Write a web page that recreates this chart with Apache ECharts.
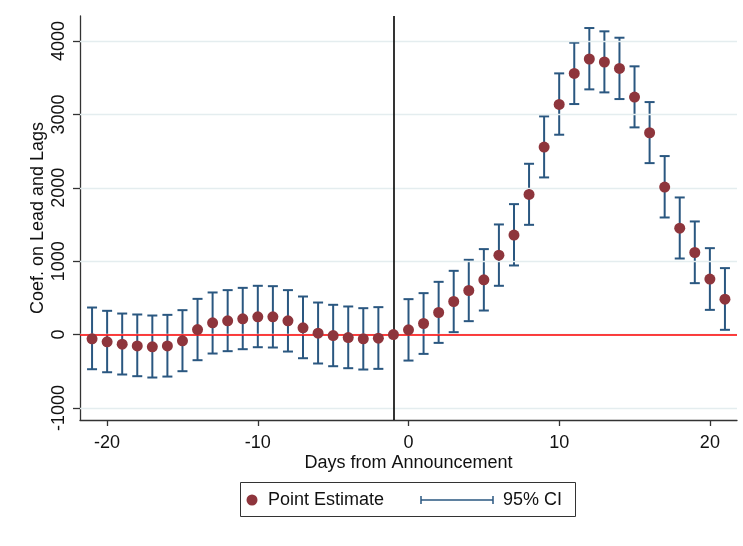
<!DOCTYPE html>
<html>
<head>
<meta charset="utf-8">
<script src="https://cdn.jsdelivr.net/npm/echarts@6/dist/echarts.min.js"></script>
<style>html,body{margin:0;padding:0;background:#fff}#c{width:743px;height:546px}</style>
</head>
<body>
<div id="c"></div>
<script>
const days = [-21,-20,-19,-18,-17,-16,-15,-14,-13,-12,-11,-10,-9,-8,-7,-6,-5,-4,-3,-2,-1,0,1,2,3,4,5,6,7,8,9,10,11,12,13,14,15,16,17,18,19,20,21];
const estimate = [-59,-100,-132,-155,-168,-155,-86,68,159,186,214,241,241,186,91,18,-14,-41,-59,-50,0,64,150,300,450,600,745,1082,1355,1909,2555,3136,3559,3755,3714,3627,3236,2750,2009,1450,1118,755,482];
const ciUpper = [368,323,286,273,259,268,332,486,573,605,636,664,659,605,518,436,405,382,359,373,null,482,564,718,868,1018,1164,1500,1777,2327,2973,3559,3977,4177,4132,4045,3655,3168,2432,1868,1541,1177,905];
const ciLower = [-473,-514,-545,-568,-586,-573,-500,-350,-259,-227,-200,-173,-177,-232,-323,-395,-432,-459,-477,-468,null,-355,-264,-114,32,182,327,664,941,1495,2141,2723,3141,3341,3300,3209,2823,2336,1595,1036,700,336,64];
const xTicks = [-20,-10,0,10,20];
const yTicks = [-1000,0,1000,2000,3000,4000];
const eventDay = -1;
const refValue = 0;

const FONT = 'Liberation Sans, Arial, sans-serif';
const markerColor = '#8e353c';
const ciColor = '#2a5780';

const ciData = days.map((d,i)=>[d, ciLower[i], ciUpper[i]]).filter(r=>r[1]!==null);
const ptData = days.map((d,i)=>[d, estimate[i]]);

const chart = echarts.init(document.getElementById('c'), null, {renderer:'canvas'});
chart.setOption({
  animation:false,
  backgroundColor:'#fff',
  grid:{left:80, right:6, top:16, bottom:126},
  xAxis:{
    type:'value', min:-21.8, max:21.8,
    name:'Days from Announcement', nameLocation:'middle', nameGap:34, nameMoveOverlap:false,
    nameTextStyle:{fontFamily:FONT, fontSize:18, color:'#111'},
    axisLine:{onZero:false, lineStyle:{color:'#333', width:1.3}},
    axisTick:{customValues:xTicks, length:6, lineStyle:{color:'#333', width:1.3}},
    axisLabel:{customValues:xTicks, fontFamily:FONT, fontSize:18, color:'#111', margin:14, formatter:v=>String(v)},
    splitLine:{show:false}
  },
  yAxis:{
    type:'value', min:-1165, max:4341,
    name:'Coef. on Lead and Lags', nameLocation:'middle', nameGap:33, nameMoveOverlap:false,
    nameTextStyle:{fontFamily:FONT, fontSize:18, color:'#111'},
    axisLine:{show:true, onZero:false, lineStyle:{color:'#333', width:1.3}},
    axisTick:{show:true, customValues:yTicks, length:7, lineStyle:{color:'#333', width:1.3}},
    axisLabel:{customValues:yTicks, rotate:90, fontFamily:FONT, fontSize:18, color:'#111', margin:12, formatter:v=>String(v)},
    splitLine:{show:false}
  },
  series:[
    {
      type:'line', data:[], silent:true,
      markLine:{silent:true, symbol:'none', label:{show:false},
        lineStyle:{color:'#e4edef', width:1.3, type:'solid'},
        data: yTicks.map(v=>({yAxis:v}))}
    },
    {
      type:'line', data:[], silent:true, z:3,
      markLine:{silent:true, symbol:'none', label:{show:false},
        data:[
          {xAxis:eventDay, lineStyle:{color:'#000', width:1.6, type:'solid'}},
          {yAxis:refValue, lineStyle:{color:'#ff0000', width:1.6, type:'solid'}}
        ]}
    },
    {
      type:'custom', name:'95% CI', z:4,
      data: ciData,
      renderItem:function(params, api){
        const x = api.value(0);
        const lo = api.coord([x, api.value(1)]);
        const hi = api.coord([x, api.value(2)]);
        const hw = 5;
        const st = {stroke:ciColor, lineWidth:2};
        return {type:'group', children:[
          {type:'line', shape:{x1:lo[0], y1:lo[1], x2:hi[0], y2:hi[1]}, style:st},
          {type:'line', shape:{x1:lo[0]-hw, y1:lo[1], x2:lo[0]+hw, y2:lo[1]}, style:st},
          {type:'line', shape:{x1:hi[0]-hw, y1:hi[1], x2:hi[0]+hw, y2:hi[1]}, style:st}
        ]};
      }
    },
    {
      type:'scatter', name:'Point Estimate', z:5,
      data: ptData, symbol:'circle', symbolSize:11,
      itemStyle:{color:markerColor, opacity:1}
    }
  ],
  graphic:[
    {type:'rect', shape:{x:240.5, y:482.5, width:335, height:34}, style:{fill:'#fff', stroke:'#333', lineWidth:1}},
    {type:'circle', shape:{cx:252, cy:500, r:5.5}, style:{fill:markerColor}},
    {type:'text', x:268, y:500, style:{text:'Point Estimate', fontFamily:FONT, fontSize:18, fill:'#111', verticalAlign:'middle'}},
    {type:'polyline', shape:{points:[[421,500],[493,500]]}, style:{stroke:ciColor, lineWidth:1.5}},
    {type:'polyline', shape:{points:[[421,496],[421,504]]}, style:{stroke:ciColor, lineWidth:1.5}},
    {type:'polyline', shape:{points:[[493,496],[493,504]]}, style:{stroke:ciColor, lineWidth:1.5}},
    {type:'text', x:503, y:500, style:{text:'95% CI', fontFamily:FONT, fontSize:18, fill:'#111', verticalAlign:'middle'}}
  ]
});
</script>
</body>
</html>
